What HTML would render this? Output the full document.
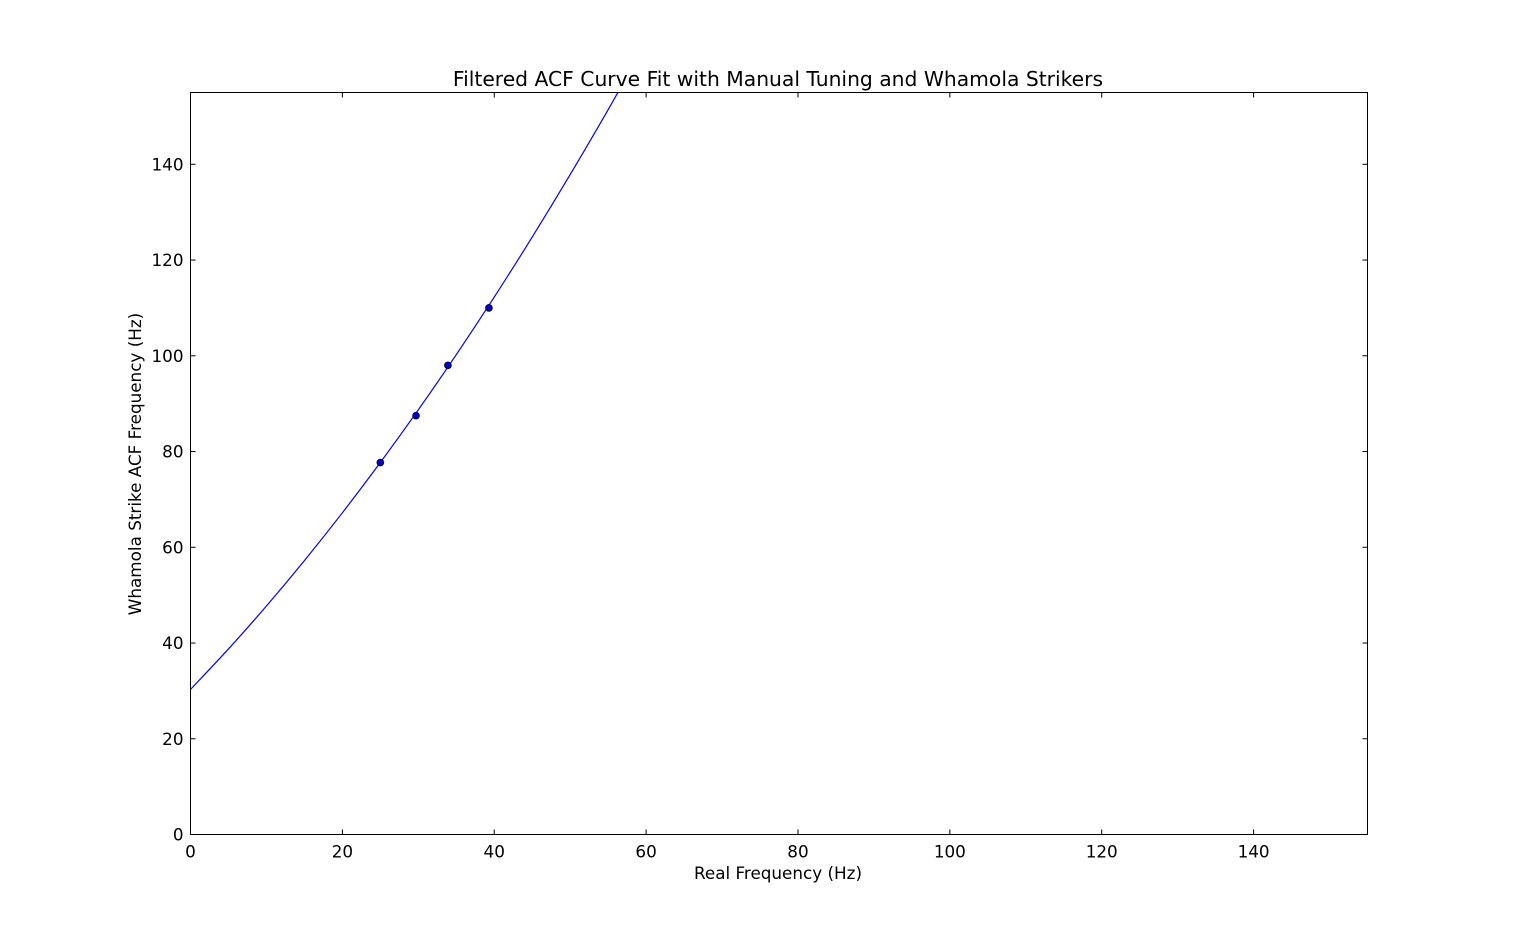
<!DOCTYPE html>
<html><head><meta charset="utf-8">
<style>
html,body{margin:0;padding:0;background:#fff;}
svg text{font-family:"DejaVu Sans","Liberation Sans",sans-serif;fill:#000;}
</style></head>
<body>
<svg id="chart" width="1518" height="927" xmlns="http://www.w3.org/2000/svg">
<rect width="1518" height="927" fill="#fff"/>
<defs><clipPath id="clip"><rect x="190" y="92" width="1177" height="742"/></clipPath></defs>
<text x="778" y="86" font-size="20.3" text-anchor="middle">Filtered ACF Curve Fit with Manual Tuning and Whamola Strikers</text>
<g id="ticks"></g>
<g id="marks" clip-path="url(#clip)"></g>
<rect x="190.5" y="92.5" width="1177" height="742" fill="none" stroke="#000" stroke-width="1"/>
<text x="778" y="879" font-size="16.8" text-anchor="middle">Real Frequency (Hz)</text>
<text x="141" y="464" font-size="16.8" text-anchor="middle" transform="rotate(-90 141 464)">Whamola Strike ACF Frequency (Hz)</text>
</svg>
<script>
const xTicks=[0,20,40,60,80,100,120,140];
const yTicks=[0,20,40,60,80,100,120,140];
const curveX=[0,5,10,15,20,25,30,35,40,45,50,55,60];
const curveY=[30.3,38.76,47.73,57.21,67.2,77.7,88.71,100.23,112.26,124.8,137.85,151.41,165.48];
const pointsX=[25,29.7,33.9,39.3];
const pointsY=[77.7,87.5,98,110];

const X0=190.5,X1=1367.5,Y0=834.5,Y1=92.5,MAX=155;
function sx(v){return X0+(X1-X0)*v/MAX;}
function sy(v){return Y0-(Y0-Y1)*v/MAX;}
const NS="http://www.w3.org/2000/svg";
const tg=document.getElementById('ticks');
const mg=document.getElementById('marks');
function mk(tag,attrs,parent){const e=document.createElementNS(NS,tag);for(const k in attrs)e.setAttribute(k,attrs[k]);parent.appendChild(e);return e;}

xTicks.forEach(v=>{
  const x=sx(v);
  const t1=mk('line',{x1:x,y1:Y0,x2:x,y2:Y0-5,stroke:'#000'},tg);
  
  
  const t2=mk('line',{x1:x,y1:Y1,x2:x,y2:Y1+5,stroke:'#000'},tg);
  
  
  const l=mk('text',{x:x,y:Y0+23,'font-size':16.8,'text-anchor':'middle'},tg);
  l.textContent=v;
  
  
});
yTicks.forEach(v=>{
  const y=sy(v);
  const t1=mk('line',{x1:X0,y1:y,x2:X0+5,y2:y,stroke:'#000'},tg);
  
  
  const t2=mk('line',{x1:X1,y1:y,x2:X1-5,y2:y,stroke:'#000'},tg);
  
  
  const l=mk('text',{x:X0-7,y:y+6,'font-size':16.8,'text-anchor':'end'},tg);
  l.textContent=v;
  
  
});

const P=curveX.map((x,i)=>[sx(x),sy(curveY[i])]);
let d='M'+P[0][0]+','+P[0][1];
for(let i=0;i<P.length-1;i++){
  const p0=P[Math.max(0,i-1)],p1=P[i],p2=P[i+1],p3=P[Math.min(P.length-1,i+2)];
  const c1=[p1[0]+(p2[0]-p0[0])/6,p1[1]+(p2[1]-p0[1])/6];
  const c2=[p2[0]-(p3[0]-p1[0])/6,p2[1]-(p3[1]-p1[1])/6];
  d+=' C'+c1[0]+','+c1[1]+' '+c2[0]+','+c2[1]+' '+p2[0]+','+p2[1];
}
const path=mk('path',{d:d,fill:'none',stroke:'#0000ff','stroke-width':1.2},mg);



pointsX.forEach((x,i)=>{
  const c=mk('circle',{cx:sx(x),cy:sy(pointsY[i]),r:3.5,fill:'#0000bf',stroke:'#000','stroke-width':0.6},mg);
  
  
});
</script>
</body></html>
